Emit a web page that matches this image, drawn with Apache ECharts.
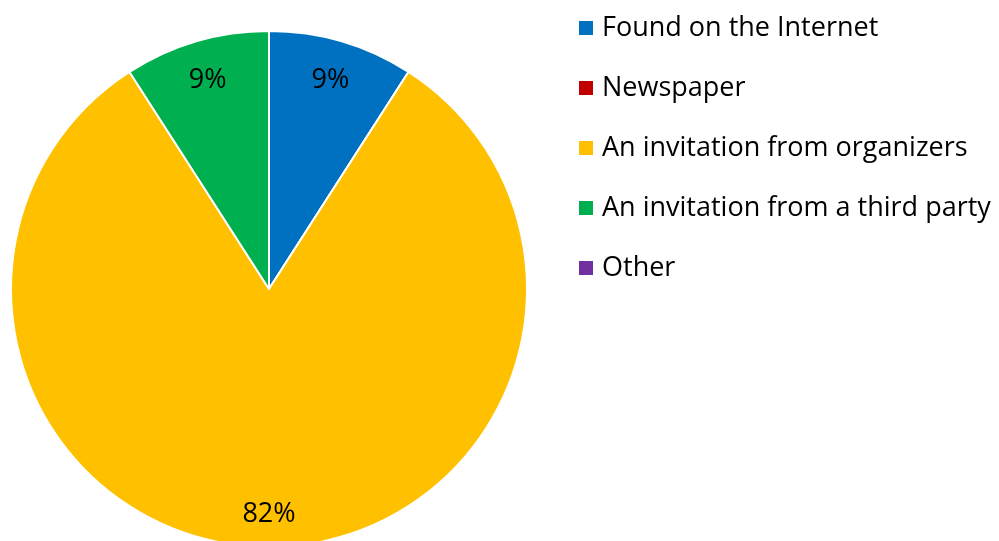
<!DOCTYPE html>
<html>
<head>
<meta charset="utf-8">
<script src="https://cdn.jsdelivr.net/npm/echarts@6/dist/echarts.min.js"></script>
<style>
html,body{margin:0;padding:0;background:#fff;}
#chart{width:999px;height:541px;}
</style>
</head>
<body>
<div id="chart"></div>
<script>
var categories = ['Found on the Internet', 'Newspaper', 'An invitation from organizers', 'An invitation from a third party', 'Other'];
var values = [1, 0, 9, 1, 0];
var colors = ['#0070C0', '#C00000', '#FFC000', '#00B050', '#7030A0'];

var FONT = 'Open Sans';
var total = values.reduce(function (a, b) { return a + b; }, 0);

var mainData = categories.map(function (c, i) {
  return { name: c, value: values[i], itemStyle: { color: colors[i] } };
});
var labelData = categories.map(function (c, i) {
  return { name: c, value: values[i], itemStyle: { color: 'rgba(0,0,0,0)' } };
});

var chart = echarts.init(document.getElementById('chart'), null, { renderer: 'canvas' });
chart.setOption({
  animation: false,
  backgroundColor: '#ffffff',
  legend: {
    orient: 'vertical',
    left: 579,
    top: 13,
    padding: 0,
    itemWidth: 14,
    itemHeight: 14,
    itemGap: 30,
    icon: 'rect',
    itemStyle: { borderWidth: 0 },
    data: categories,
    textStyle: { fontFamily: FONT, fontSize: 27, color: '#000', lineHeight: 30, padding: [0, 0, 0, 4] },
    selectedMode: false
  },
  series: [
    {
      type: 'pie',
      center: [269, 289],
      radius: [0, 258],
      startAngle: 90,
      clockwise: true,
      avoidLabelOverlap: false,
      label: { show: false },
      labelLine: { show: false },
      itemStyle: { borderColor: '#ffffff', borderWidth: 2 },
      emphasis: { disabled: true },
      data: mainData
    },
    {
      type: 'pie',
      center: [269, 289],
      radius: [172, 258],
      startAngle: 90,
      clockwise: true,
      avoidLabelOverlap: false,
      silent: true,
      legendHoverLink: false,
      itemStyle: { borderWidth: 0 },
      label: {
        show: true,
        position: 'inside',
        fontFamily: FONT,
        fontSize: 27,
        color: '#000',
        formatter: function (p) {
          if (!p.value) return '';
          return Math.round(p.value / total * 100) + '%';
        }
      },
      labelLayout: function (p) {
        return p.dataIndex === 2 ? { dy: 7 } : {};
      },
      labelLine: { show: false },
      emphasis: { disabled: true },
      data: labelData
    }
  ]
});
</script>
</body>
</html>
